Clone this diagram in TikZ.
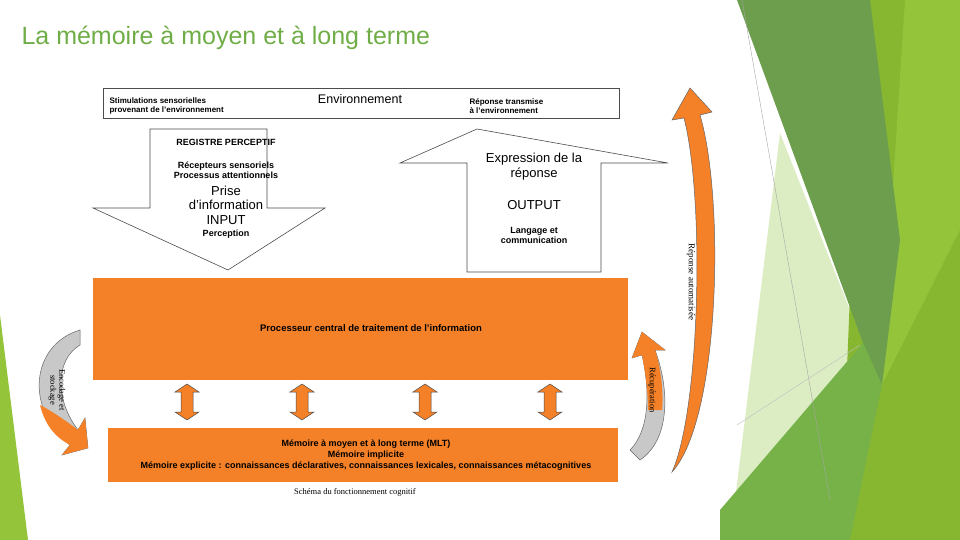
\documentclass[tikz,border=0pt]{standalone}
\usepackage{fontspec}
\setmainfont{Liberation Sans}
\newfontfamily\serifcap{Liberation Serif}
\definecolor{tgreen}{RGB}{112,173,71}
\definecolor{lime}{RGB}{148,196,58}
\definecolor{lime2}{RGB}{135,183,48}
\definecolor{dgreen}{RGB}{108,158,78}
\definecolor{mgreen}{RGB}{118,178,72}
\definecolor{pale}{RGB}{220,236,195}
\definecolor{orng}{RGB}{244,128,40}
\definecolor{greyar}{RGB}{200,200,200}
\tikzset{
 fr/.style={draw=black!70,line width=0.6pt,fill=white},
 ob/.style={fill=orng,draw=none},
 dbl/.style={fill=orng,draw=black!70,line width=0.5pt},
 sm/.style={font=\fontsize{9}{10}\selectfont\bfseries,align=center},
}
\begin{document}
\begin{tikzpicture}[x=1pt,y=-1pt]
\useasboundingbox (0,0) rectangle (960,540);
% right decorations
\fill[pale] (780,133) -- (863,343) -- (735,500) -- cycle;
\fill[lime2] (862,0) -- (960,0) -- (960,540) -- (840,540) -- cycle;
\fill[lime] (905,0) -- (960,0) -- (960,540) -- (870,540) -- cycle;
\fill[dgreen] (737,0) -- (870,0) -- (900,240) -- (882,385) -- (863,343) -- cycle;
\fill[mgreen] (720,510) -- (863,343) -- (882,385) -- (870,540) -- (720,540) -- cycle;
\fill[lime2] (882,385) -- (960,230) -- (960,540) -- (850,540) -- cycle;
\draw[black!35,line width=0.4pt] (742,0) -- (830,500);
\draw[black!25,line width=0.4pt] (737,425) -- (860,345);
% left decoration
\fill[lime] (0,315) -- (28,540) -- (0,540) -- cycle;
% title
\node[anchor=west,text=tgreen,font=\fontsize{25}{27}\selectfont] (title) at (18,38) {La mémoire à moyen et à long terme};
% environment box
\draw[fr] (103,88) rectangle (619,118);
\node[anchor=west,align=left,font=\fontsize{8}{9.5}\selectfont\bfseries] (stim) at (106,106) {Stimulations sensorielles\\provenant de l'environnement};
\node[font=\fontsize{12.5}{14}\selectfont] (env) at (360,99) {Environnement};
\node[anchor=west,align=left,font=\fontsize{8}{9.5}\selectfont\bfseries] (rep) at (466,106) {Réponse transmise\\à l'environnement};
% down arrow
\draw[fr] (150,129) -- (267,129) -- (267,208) -- (325,208) -- (228,270) -- (93,208) -- (150,208) -- cycle;
\node[sm] (reg) at (226,142) {REGISTRE PERCEPTIF};
\node[sm] (recep) at (226,170) {Récepteurs sensoriels\\Processus attentionnels};
\node[align=center,font=\fontsize{13}{14.5}\selectfont] (prise) at (226,205) {Prise\\d'information\\INPUT};
\node[sm] (perc) at (226,234) {Perception};
% up arrow
\draw[fr] (477,129) -- (668,163) -- (601,163) -- (601,272) -- (467,272) -- (467,163) -- (400,163) -- cycle;
\node[align=center,font=\fontsize{13}{15}\selectfont] (expr) at (534,167) {Expression de la\\réponse};
\node[font=\fontsize{13}{14}\selectfont] (out) at (534,205) {OUTPUT};
\node[sm] (lang) at (534,235) {Langage et\\communication};
% processor
\node[ob,minimum width=535pt,minimum height=102pt,anchor=north west] (proc) at (93,278) {};
\node[sm,font=\fontsize{9.5}{11}\selectfont\bfseries] (proct) at (371,328) {Processeur central de traitement de l'information};
% MLT
\node[ob,minimum width=510pt,minimum height=54pt,anchor=north west] (mlt) at (108,428) {};
\node[align=center,font=\fontsize{9}{11}\selectfont\bfseries] (mltt) at (366,455) {Mémoire à moyen et à long terme (MLT)\\Mémoire implicite\\Mémoire explicite : connaissances déclaratives, connaissances lexicales, connaissances métacognitives};
\node[font=\serifcap\fontsize{8.5}{9}\selectfont] (cap) at (355,492) {Schéma du fonctionnement cognitif};
% double arrows
\foreach \x/\n in {187/a,302/b,425/c,550/d}{
 \draw[dbl] (\x-6,392) -- (\x-12,392) -- (\x,384) -- (\x+12,392) -- (\x+6,392) -- (\x+6,412) -- (\x+12,412) -- (\x,420) -- (\x-12,412) -- (\x-6,412) -- cycle;
}
% left curved arrow (encodage)
\draw[fill=greyar,draw=black!60,line width=0.5pt] (80,330) .. controls (30,345) and (25,410) .. (70,445) -- (62,455) -- (88,448) -- (85,418) -- (78,430) .. controls (55,400) and (55,360) .. (80,345) -- cycle;
\fill[orng] (70,445) -- (62,455) -- (88,448) -- (85,418) -- (78,430) .. controls (65,420) and (50,410) .. (40,405) .. controls (45,425) and (55,437) .. (70,445) -- cycle;
\node[rotate=-90,align=center,font=\serifcap\fontsize{8.5}{9}\selectfont] (enc) at (57,390) {Encodage et\\stockage};
% right curved arrow (recuperation)
\draw[fill=greyar,draw=black!60,line width=0.5pt] (640,460) .. controls (670,440) and (670,390) .. (655,350) -- (665,350) -- (642,332) -- (632,358) -- (642,355) .. controls (650,390) and (650,430) .. (630,450) -- cycle;
\fill[orng] (665,350) -- (642,332) -- (632,358) -- (642,355) .. controls (646,375) and (648,395) .. (648,410) -- (662,410) .. controls (664,390) and (660,365) .. (655,350) -- cycle;
\node[rotate=-90,font=\serifcap\fontsize{8.5}{9}\selectfont] (recup) at (652,390) {Récupération};
% big orange arrow
\draw[fill=orng,draw=black!60,line width=0.5pt] (672,472) .. controls (720,420) and (725,200) .. (700,115) -- (712,112) -- (690,88) -- (672,120) -- (684,118) .. controls (705,200) and (700,410) .. (672,472) -- cycle;
\node[rotate=-90,font=\serifcap\fontsize{9}{10}\selectfont] (auto) at (691,282) {Réponse automatisée};
\end{tikzpicture}
\end{document}
